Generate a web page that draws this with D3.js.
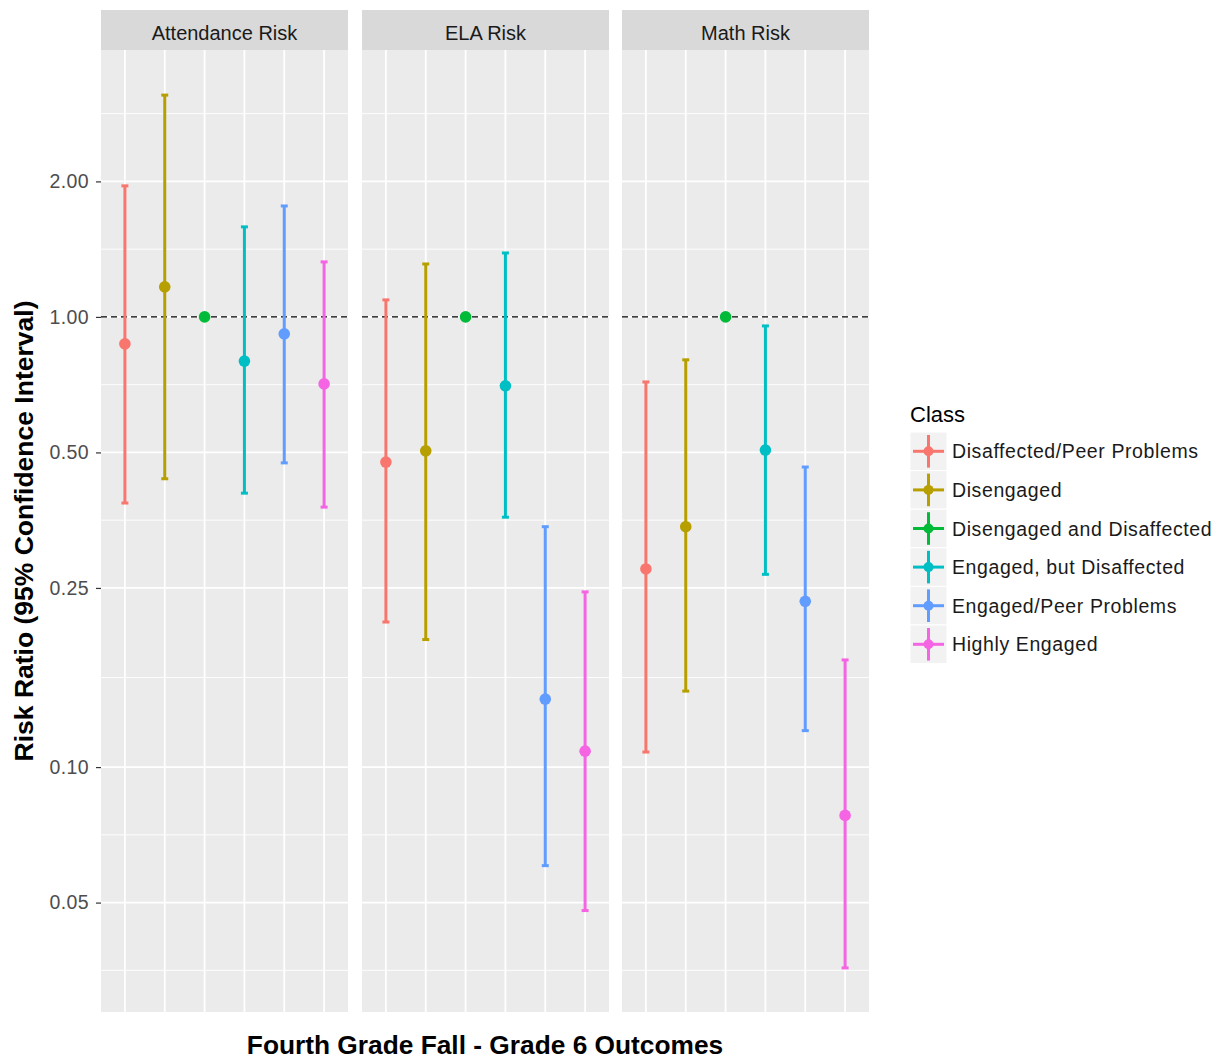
<!DOCTYPE html>
<html>
<head>
<meta charset="utf-8">
<script src="https://cdn.jsdelivr.net/npm/d3@7"></script>
<style>
  body { margin: 0; background: #fff; }
  svg { font-family: "Liberation Sans", Arial, sans-serif; }
</style>
</head>
<body>
<div id="chart-area"></div>
<script>
// data
var facets = ["Attendance Risk", "ELA Risk", "Math Risk"];
var classes = ["Disaffected/Peer Problems", "Disengaged", "Disengaged and Disaffected",
  "Engaged, but Disaffected", "Engaged/Peer Problems", "Highly Engaged"];
var colors = ["#F8766D", "#B79F00", "#00BA38", "#00BFC4", "#619CFF", "#F564E3"];

var attendanceEst = [0.871, 1.166, 1.00, 0.798, 0.917, 0.710];
var attendanceLow = [0.386, 0.437, 1.00, 0.406, 0.474, 0.378];
var attendanceHigh = [1.955, 3.11, 1.00, 1.585, 1.764, 1.325];

var elaEst = [0.476, 0.504, 1.00, 0.703, 0.1416, 0.1085];
var elaLow = [0.210, 0.192, 1.00, 0.359, 0.0604, 0.0480];
var elaHigh = [1.091, 1.311, 1.00, 1.387, 0.342, 0.245];

var mathEst = [0.2755, 0.342, 1.00, 0.506, 0.2335, 0.0781];
var mathLow = [0.108, 0.1475, 1.00, 0.268, 0.1205, 0.0358];
var mathHigh = [0.717, 0.803, 1.00, 0.955, 0.464, 0.173];

var yTicks = [0.05, 0.10, 0.25, 0.50, 1.00, 2.00];
var yBreaksAll = [0.025, 0.05, 0.10, 0.25, 0.50, 1.00, 2.00, 4.00];

var est = [attendanceEst, elaEst, mathEst];
var low = [attendanceLow, elaLow, mathLow];
var high = [attendanceHigh, elaHigh, mathHigh];

var W = 1218, H = 1064;
var panelTop = 50, panelBottom = 1012;
var panelLeft = [101, 362, 622];
var panelW = 247;
var stripTop = 10;

var svg = d3.select('#chart-area')
  .append('svg')
  .attr('width', W)
  .attr('height', H);

var y = d3.scaleLog()
  .domain([0.02857, 3.917])
  .range([panelBottom, panelTop]);

var x = d3.scalePoint()
  .domain(classes)
  .range([0, panelW])
  .padding(0.6);

var color = d3.scaleOrdinal().domain(classes).range(colors);

// minor breaks: midpoints in log space
var minor = [];
for (var i = 0; i < yBreaksAll.length - 1; i++) {
  minor.push(Math.sqrt(yBreaksAll[i] * yBreaksAll[i + 1]));
}

facets.forEach(function(f, fi) {
  var g = svg.append('g')
    .attr('transform', `translate(${panelLeft[fi]}, 0)`);

  // strip
  g.append('rect')
    .attr('x', 0).attr('y', stripTop)
    .attr('width', panelW).attr('height', panelTop - stripTop)
    .attr('fill', '#d9d9d9');
  g.append('text')
    .attr('x', panelW / 2).attr('y', 40)
    .attr('text-anchor', 'middle')
    .attr('font-size', '20px')
    .attr('fill', '#1a1a1a')
    .text(f);

  // panel bg
  g.append('rect')
    .attr('x', 0).attr('y', panelTop)
    .attr('width', panelW).attr('height', panelBottom - panelTop)
    .attr('fill', '#ebebeb');

  // grid
  g.selectAll('.minor')
    .data(minor.filter(function(v) { return y(v) > panelTop && y(v) < panelBottom; }))
    .enter().append('line')
    .attr('x1', 0).attr('x2', panelW)
    .attr('y1', function(d) { return y(d); })
    .attr('y2', function(d) { return y(d); })
    .attr('stroke', '#fff').attr('stroke-width', 0.9);

  g.selectAll('.major')
    .data(yTicks)
    .enter().append('line')
    .attr('x1', 0).attr('x2', panelW)
    .attr('y1', function(d) { return y(d); })
    .attr('y2', function(d) { return y(d); })
    .attr('stroke', '#fff').attr('stroke-width', 1.8);

  g.selectAll('.vgrid')
    .data(classes)
    .enter().append('line')
    .attr('x1', function(d) { return x(d); })
    .attr('x2', function(d) { return x(d); })
    .attr('y1', panelTop).attr('y2', panelBottom)
    .attr('stroke', '#fff').attr('stroke-width', 1.8);

  // reference line at 1
  g.append('line')
    .attr('x1', 0).attr('x2', panelW)
    .attr('y1', y(1)).attr('y2', y(1))
    .attr('stroke', '#000')
    .attr('stroke-width', 1.4)
    .attr('stroke-dasharray', '6,4');

  var rows = classes.map(function(c, ci) {
    return { cls: c, est: est[fi][ci], lo: low[fi][ci], hi: high[fi][ci] };
  });

  var bars = g.selectAll('.bar')
    .data(rows)
    .enter().append('g')
    .attr('class', 'bar');

  bars.append('line')
    .attr('x1', function(d) { return x(d.cls); })
    .attr('x2', function(d) { return x(d.cls); })
    .attr('y1', function(d) { return y(d.lo); })
    .attr('y2', function(d) { return y(d.hi); })
    .attr('stroke', function(d) { return color(d.cls); })
    .attr('stroke-width', 3);

  ['lo', 'hi'].forEach(function(k) {
    bars.append('line')
      .attr('x1', function(d) { return x(d.cls) - 3.5; })
      .attr('x2', function(d) { return x(d.cls) + 3.5; })
      .attr('y1', function(d) { return y(d[k]); })
      .attr('y2', function(d) { return y(d[k]); })
      .attr('stroke', function(d) { return color(d.cls); })
      .attr('stroke-width', 3);
  });

  bars.append('circle')
    .attr('cx', function(d) { return x(d.cls); })
    .attr('cy', function(d) { return y(d.est); })
    .attr('r', 5.8)
    .attr('fill', function(d) { return color(d.cls); });
});

// y axis
var yAxis = svg.append('g')
  .attr('transform', `translate(${panelLeft[0]}, 0)`)
  .call(d3.axisLeft(y).tickValues(yTicks).tickFormat(d3.format('.2f')).tickSize(5).tickPadding(7));
yAxis.select('.domain').remove();
yAxis.selectAll('.tick line').attr('stroke', '#333').attr('stroke-width', 1.2);
yAxis.selectAll('.tick text')
  .attr('font-size', '19.5px')
  .attr('fill', '#4d4d4d')
  .attr('letter-spacing', '0.4px')
  .attr('font-family', '"Liberation Sans", Arial, sans-serif');

svg.append('text')
  .attr('transform', `translate(33, ${(panelTop + panelBottom) / 2}) rotate(-90)`)
  .attr('text-anchor', 'middle')
  .attr('font-size', '26.5px')
  .attr('font-weight', 'bold')
  .text('Risk Ratio (95% Confidence Interval)');

svg.append('text')
  .attr('x', (panelLeft[0] + panelLeft[2] + panelW) / 2)
  .attr('y', 1054)
  .attr('text-anchor', 'middle')
  .attr('font-size', '26.3px')
  .attr('font-weight', 'bold')
  .text('Fourth Grade Fall - Grade 6 Outcomes');

// legend
var legend = svg.append('g').attr('transform', 'translate(910, 0)');
legend.append('text')
  .attr('x', 0).attr('y', 422)
  .attr('font-size', '22px')
  .attr('fill', '#000')
  .text('Class');

var keys = legend.selectAll('.key')
  .data(classes)
  .enter().append('g')
  .attr('class', 'key')
  .attr('transform', function(d, i) { return `translate(0, ${432 + i * 38.6})`; });

keys.append('rect')
  .attr('width', 37).attr('height', 38.6)
  .attr('fill', '#f2f2f2')
  .attr('stroke', '#fff').attr('stroke-width', 1);
keys.append('line')
  .attr('x1', 3).attr('x2', 34).attr('y1', 19.3).attr('y2', 19.3)
  .attr('stroke', function(d) { return color(d); }).attr('stroke-width', 3);
keys.append('line')
  .attr('x1', 18.5).attr('x2', 18.5).attr('y1', 3).attr('y2', 35.6)
  .attr('stroke', function(d) { return color(d); }).attr('stroke-width', 3);
keys.append('circle')
  .attr('cx', 18.5).attr('cy', 19.3).attr('r', 5)
  .attr('fill', function(d) { return color(d); });
keys.append('text')
  .attr('x', 42).attr('y', 19.3).attr('dy', '0.36em')
  .attr('font-size', '19.5px')
  .attr('letter-spacing', '0.6px')
  .attr('fill', '#1a1a1a')
  .text(function(d) { return d; });
</script>
</body>
</html>
